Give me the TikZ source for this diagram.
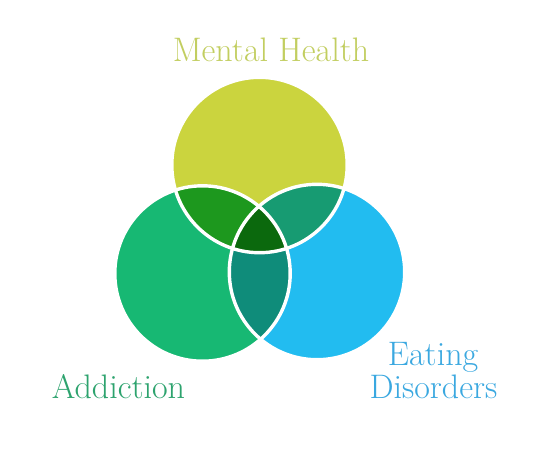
\documentclass[tikz,border=0pt]{standalone}
\usepackage{fontspec}
\begin{document}
\begin{tikzpicture}[x=1pt,y=-1pt,
  lbl/.style={font=\fontsize{34}{36}\selectfont, inner sep=0pt, anchor=base, align=center},
  sep/.style={draw=white, line width=3.4pt}]
\definecolor{cTop}{HTML}{CBD43E}
\definecolor{cLeft}{HTML}{17B873}
\definecolor{cRight}{HTML}{22BCF0}
\definecolor{cTL}{HTML}{1D981E}
\definecolor{cTR}{HTML}{179B72}
\definecolor{cLR}{HTML}{0F8C7A}
\definecolor{cMid}{HTML}{0B690D}
\definecolor{tTop}{HTML}{C2CE60}
\definecolor{tLeft}{HTML}{2DA36E}
\definecolor{tRight}{HTML}{3AA8E0}
\useasboundingbox (0,0) rectangle (547,456);
\fill[white] (0,0) rectangle (547,456);
\coordinate (T) at (259.5,165);
\coordinate (L) at (202.5,273.5);
\coordinate (R) at (317,272);
\def\rr{87.7pt}
% base fills
\fill[cTop] (T) circle (\rr);
\fill[cLeft] (L) circle (\rr);
\fill[cRight] (R) circle (\rr);
% pairwise overlaps
\begin{scope}\clip (T) circle (\rr); \fill[cTL] (L) circle (\rr); \end{scope}
\begin{scope}\clip (T) circle (\rr); \fill[cTR] (R) circle (\rr); \end{scope}
\begin{scope}\clip (L) circle (\rr); \fill[cLR] (R) circle (\rr); \end{scope}
% triple overlap
\begin{scope}\clip (T) circle (\rr); \clip (L) circle (\rr); \fill[cMid] (R) circle (\rr); \end{scope}
% white separators
\draw[sep] (T) circle (\rr);
\draw[sep] (L) circle (\rr);
\draw[sep] (R) circle (\rr);
% labels
\node[lbl, text=tTop] (mh) at (271,61.5) {Mental Health};
\node[lbl, text=tLeft] (ad) at (118.5,398) {Addiction};
\node[lbl, text=tRight] (ed1) at (433,365) {Eating};
\node[lbl, text=tRight] (ed2) at (433.5,398) {Disorders};
\end{tikzpicture}
\end{document}
